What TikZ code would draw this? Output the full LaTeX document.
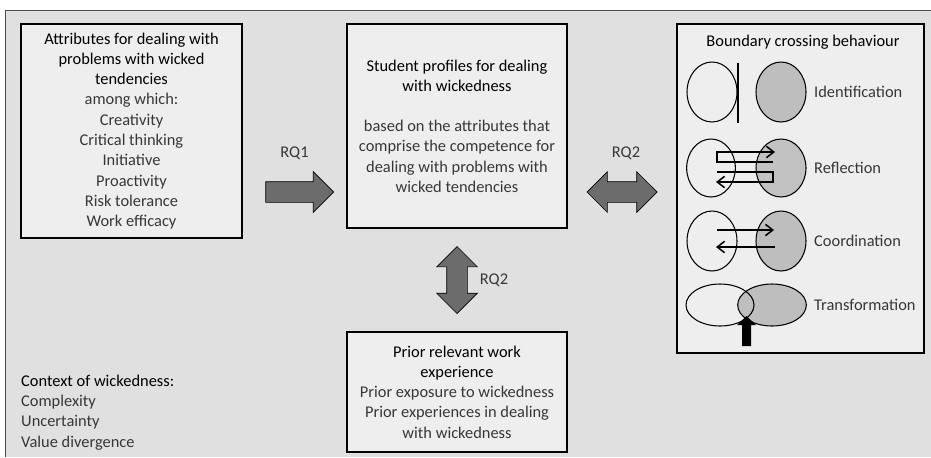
\documentclass[tikz,border=0pt]{standalone}
\usepackage{fontspec}
\setmainfont{Carlito}
\usepackage{tikz}
\usetikzlibrary{calc,positioning,shapes.arrows,arrows.meta}

\definecolor{bggray}{RGB}{224,224,224}
\definecolor{boxgray}{RGB}{238,238,238}
\definecolor{arrgray}{RGB}{108,108,108}
\definecolor{ovalgray}{RGB}{190,190,190}
\definecolor{lighttext}{RGB}{55,55,55}

\tikzset{
	box/.style={draw=black, line width=1.4pt, fill=boxgray, align=center, inner sep=0pt, text=lighttext},
	fatarrow/.style={single arrow, draw=black, fill=arrgray, line width=0.6pt, inner xsep=0pt, inner ysep=3mm,
		single arrow head extend=3mm, minimum height=#1},
	fatdarrow/.style={double arrow, draw=black, fill=arrgray, line width=0.6pt, inner xsep=0pt, inner ysep=3mm,
		double arrow head extend=3mm, minimum height=#1},
	rqlabel/.style={text=lighttext, inner sep=0pt},
	oval/.style={draw=black, line width=0.9pt},
	flow/.style={draw=black, line width=1.3pt, -{Straight Barb[length=2.2mm,width=3.4mm]}},
}

\begin{document}
\begin{tikzpicture}[x=0.3mm,y=-0.3mm,font=\fontsize{14}{17.3}\selectfont]
		\useasboundingbox (0,0) rectangle (931,457);
		\fill[bggray] (5,10) rectangle (931,457);
		\draw[black!70,line width=0.8pt] (5,457) -- (5,10) -- (931,10);
		% the three text boxes
		\node[box,minimum width=66.3mm,minimum height=64.2mm] (attr) at (131.5,131) {\textcolor{black}{Attributes for dealing with}\\ \textcolor{black}{problems with wicked}\\ \textcolor{black}{tendencies}\\ among which:\\ Creativity\\ Critical thinking\\ Initiative\\ Proactivity\\ Risk tolerance\\ Work efficacy};
		\node[box,minimum width=66mm,minimum height=61.2mm] (prof) at (457,126) {\textcolor{black}{Student profiles for dealing}\\ \textcolor{black}{with wickedness}\\[17pt] based on the attributes that\\ comprise the competence for\\ dealing with problems with\\ wicked tendencies};
		\node[box,minimum width=66mm,minimum height=36mm] (prior) at (457,392) {\textcolor{black}{Prior relevant work}\\ \textcolor{black}{experience}\\ Prior exposure to wickedness\\ Prior experiences in dealing\\ with wickedness};
		\node[box,minimum width=74.1mm,minimum height=98.7mm] (bcb) at (800.5,188.5) {};
		\node[inner sep=0pt] (bcbtitle) at (803,42) {Boundary crossing behaviour};
		\node[align=left,inner sep=0pt,anchor=west,text=lighttext] (ctx) at (21,412.5) {\textcolor{black}{Context of wickedness:}\\ Complexity\\ Uncertainty\\ Value divergence};
		% block arrows between the boxes
		\coordinate (arrowrow) at (0,192);
		\coordinate (gapa) at ($(attr.east)!0.5!(prof.west)$);
		\coordinate (gapb) at ($(prof.east)!0.5!(bcb.west)$);
		\node[fatarrow=20.4mm] (rqa) at (gapa |- arrowrow) {};
		\node[fatdarrow=21mm] (rqb) at (gapb |- arrowrow) {};
		\node[fatdarrow=20.1mm,rotate=90] (rqc) at ($(prof.south)!0.5!(prior.north)$) {};
		\node[rqlabel] (rqalabel) at (rqa.center |- 0,153) {RQ1};
		\node[rqlabel] (rqblabel) at (626,153) {RQ2};
		\node[rqlabel] (rqclabel) at (494,280) {RQ2};
		% identification
		\draw[oval] (712,92) ellipse [x radius=7.5mm,y radius=9mm];
		\draw[oval,fill=ovalgray] (781,92) ellipse [x radius=7.5mm,y radius=9mm];
		\draw[line width=1.5pt] (738,63) -- (738,123);
		\node[inner sep=0pt,anchor=west,text=lighttext] (idf) at (814,92) {Identification};
		% reflection
		\draw[oval] (711,168) ellipse [x radius=7.3mm,y radius=8.7mm];
		\draw[oval,fill=ovalgray,fill opacity=0.9] (781,168) ellipse [x radius=7.5mm,y radius=8.7mm];
		\draw[flow] (773,162) -- (717,162) -- (717,152) -- (775,152);
		\draw[flow] (717,172) -- (773,172) -- (773,182) -- (716,182);
		\node[inner sep=0pt,anchor=west,text=lighttext] (rfl) at (814,168) {Reflection};
		% coordination
		\draw[oval] (712,241) ellipse [x radius=7.5mm,y radius=9mm];
		\draw[oval,fill=ovalgray] (781,241) ellipse [x radius=7.5mm,y radius=9mm];
		\draw[flow] (717,230) -- (774,230);
		\draw[flow] (775,247) -- (716,247);
		\node[inner sep=0pt,anchor=west,text=lighttext] (crd) at (814,241) {Coordination};
		% transformation
		\fill[ovalgray] (772,305) ellipse [x radius=10.3mm,y radius=6.3mm];
		\draw[oval] (720,305) ellipse [x radius=10.2mm,y radius=6.3mm];
		\draw[oval] (772,305) ellipse [x radius=10.3mm,y radius=6.3mm];
		\fill[black] (742,346) -- (742,325) -- (737,325) -- (746.5,316) -- (756,325) -- (751,325) -- (751,346) -- cycle;
		\node[inner sep=0pt,anchor=west,text=lighttext] (trf) at (814,305) {Transformation};
\end{tikzpicture}
\end{document}
